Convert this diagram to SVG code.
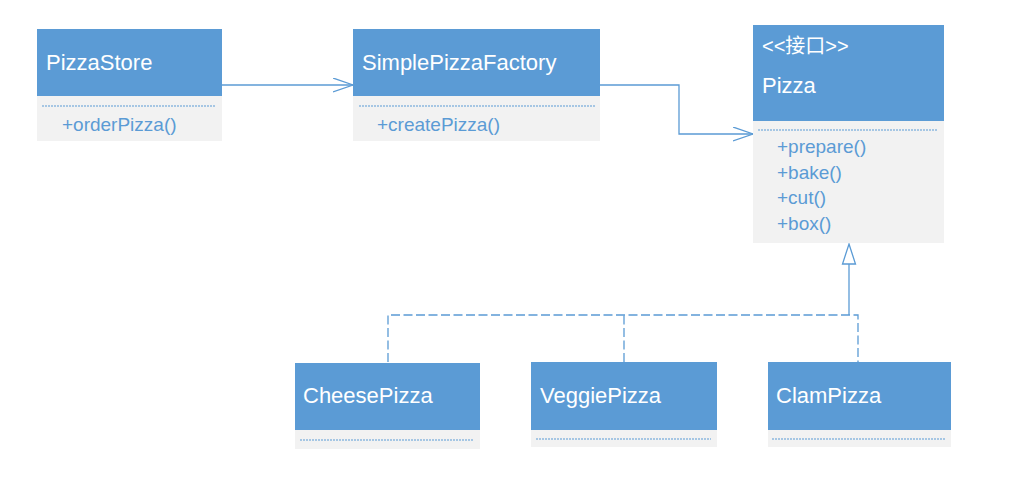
<svg xmlns="http://www.w3.org/2000/svg" width="1022" height="477" viewBox="0 0 1022 477">
<defs>
<style>
.hd{fill:#5B9BD5}
.bd{fill:#F2F2F2}
.dot{stroke:#5B9BD5;stroke-width:1;stroke-dasharray:2,1;fill:none}
.ttl{font-family:"Liberation Sans",Arial,"Noto Sans CJK SC",sans-serif;font-size:22px;fill:#FFFFFF}
.ster{font-family:"Liberation Sans",Arial,"Noto Sans CJK SC",sans-serif;font-size:20px;fill:#FFFFFF}
.mem{font-family:"Liberation Sans",Arial,sans-serif;font-size:19px;fill:#5B9BD5}
.ln{stroke:#5B9BD5;stroke-width:1.3;fill:none}
.dash{stroke:#5B9BD5;stroke-width:1.3;fill:none;stroke-dasharray:9,3.5}
</style>
<marker id="open" markerWidth="22" markerHeight="16" refX="20" refY="7" orient="auto" markerUnits="userSpaceOnUse">
<path d="M0,0 L20,7 L0,14" fill="none" stroke="#5B9BD5" stroke-width="1.3"/>
</marker>
</defs>
<rect width="1022" height="477" fill="#FFFFFF"/>
<g id="connectors">
<path class="ln" d="M222,85 H353" marker-end="url(#open)"/>
<path class="ln" d="M600,85 H679 V134 H753" marker-end="url(#open)"/>
<path class="ln" d="M849,315 V264"/>
<path d="M849,244 L855.5,264 L842.5,264 Z" fill="#FFFFFF" stroke="#5B9BD5" stroke-width="1.3"/>
<path class="dash" d="M388,362 V315 H858 V362"/>
<path class="dash" d="M624,362 V315"/>
</g>
<g id="PizzaStore">
<rect class="hd" x="37" y="29" width="185" height="67"/>
<rect class="bd" x="37" y="96" width="185" height="45"/>
<line class="dot" x1="42" y1="106" x2="216" y2="106"/>
<text class="ttl" x="46" y="70">PizzaStore</text>
<text class="mem" x="62" y="131">+orderPizza()</text>
</g>
<g id="SimplePizzaFactory">
<rect class="hd" x="353" y="29" width="247" height="67"/>
<rect class="bd" x="353" y="96" width="247" height="45"/>
<line class="dot" x1="359" y1="106" x2="595" y2="106"/>
<text class="ttl" x="362" y="70">SimplePizzaFactory</text>
<text class="mem" x="377" y="131">+createPizza()</text>
</g>
<g id="Pizza">
<rect class="hd" x="753" y="25" width="191" height="96"/>
<rect class="bd" x="753" y="121" width="191" height="122"/>
<line class="dot" x1="758" y1="130" x2="938" y2="130"/>
<text class="ster" x="762" y="53">&lt;&lt;接口&gt;&gt;</text>
<text class="ttl" x="762" y="93">Pizza</text>
<text class="mem" x="777" y="153">+prepare()</text>
<text class="mem" x="777" y="178.5">+bake()</text>
<text class="mem" x="777" y="204">+cut()</text>
<text class="mem" x="777" y="229.5">+box()</text>
</g>
<g id="CheesePizza">
<rect class="hd" x="295" y="363" width="185" height="67"/>
<rect class="bd" x="295" y="430" width="185" height="19"/>
<line class="dot" x1="300" y1="440" x2="474" y2="440"/>
<text class="ttl" x="303" y="403">CheesePizza</text>
</g>
<g id="VeggiePizza">
<rect class="hd" x="531" y="362" width="186" height="68"/>
<rect class="bd" x="531" y="430" width="186" height="17"/>
<line class="dot" x1="536" y1="439" x2="711" y2="439"/>
<text class="ttl" x="540" y="403">VeggiePizza</text>
</g>
<g id="ClamPizza">
<rect class="hd" x="768" y="362" width="183" height="68"/>
<rect class="bd" x="768" y="430" width="183" height="17"/>
<line class="dot" x1="772" y1="439" x2="946" y2="439"/>
<text class="ttl" x="776" y="403">ClamPizza</text>
</g>
</svg>
